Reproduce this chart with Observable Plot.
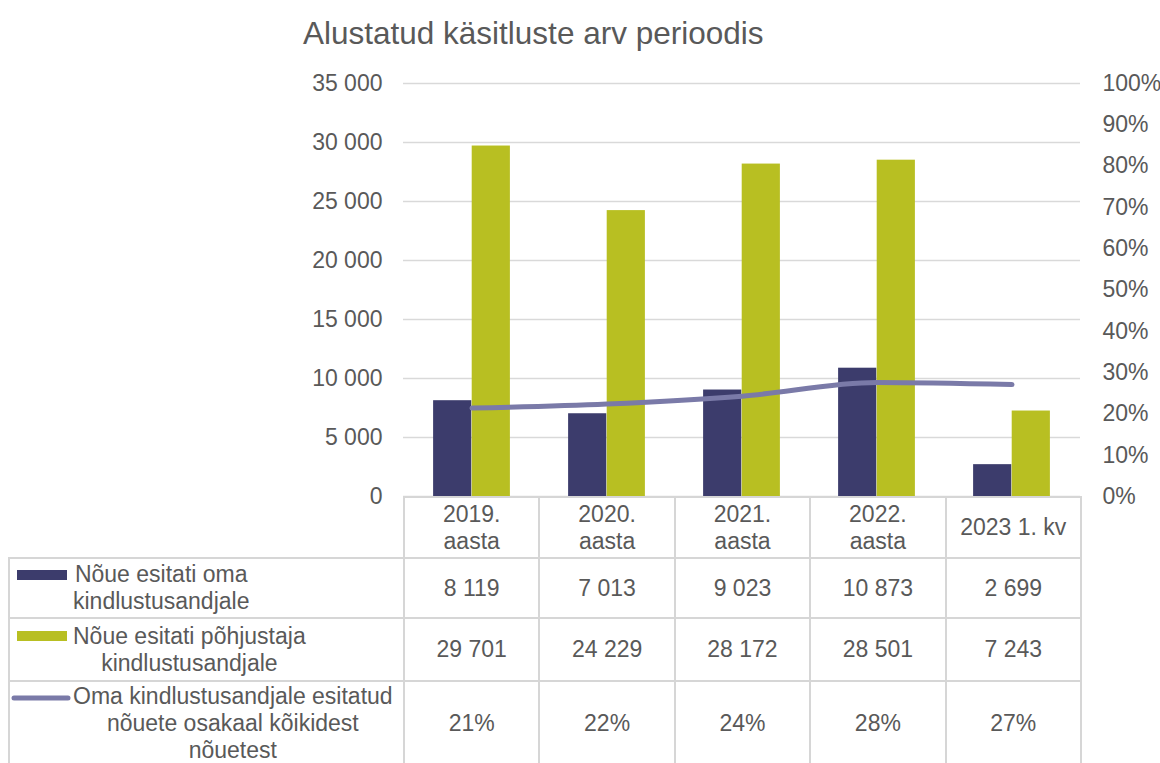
<!DOCTYPE html>
<html>
<head>
<meta charset="utf-8">
<script src="https://cdn.jsdelivr.net/npm/d3@7"></script>
<script src="https://cdn.jsdelivr.net/npm/@observablehq/plot@0.6"></script>
<style>
  html, body { margin: 0; padding: 0; background: #fff; }
  #wrap { position: relative; width: 1160px; height: 763px; overflow: hidden; font-family: "Liberation Sans", Arial, sans-serif; color: #595959; }
  #title { position: absolute; left: 303px; top: 17px; font-size: 31.5px; line-height: 32px; white-space: nowrap; }
  #chart { position: absolute; left: 0; top: 0; }
  #tbl { position: absolute; left: 8px; top: 496px; border-collapse: collapse; table-layout: fixed; font-size: 23px; line-height: 27px; }
  #tbl td { border: 2px solid #d6d6d6; text-align: center; vertical-align: middle; padding: 0; white-space: pre-line; }
  #tbl td.blank { border: none; }
  #tbl td.lab { position: relative; text-align: left; }
  .sw { position: absolute; left: 7px; }
  .labtxt { display: inline-block; margin-left: 63px; text-align: center; white-space: pre; }
</style>
</head>
<body>
<div id="wrap">
  <div id="title"></div>
  <div id="chart"></div>
  <table id="tbl"></table>
</div>
<script>
// ---- data ----
const title = "Alustatud käsitluste arv perioodis";
const categories = ["2019.\naasta", "2020.\naasta", "2021.\naasta", "2022.\naasta", "2023 1. kv"];
const ownInsurer = [8119, 7013, 9023, 10873, 2699];
const causerInsurer = [29701, 24229, 28172, 28501, 7243];
const ownShare = [21.4, 22.4, 24.3, 27.6, 27.1];
const seriesNames = [
  "Nõue esitati oma\nkindlustusandjale",
  "Nõue esitati põhjustaja\nkindlustusandjale",
  "Oma kindlustusandjale esitatud\nnõuete osakaal kõikidest\nnõuetest"
];
const leftTicks = [0, 5000, 10000, 15000, 20000, 25000, 30000, 35000];
const rightTicks = [0, 10, 20, 30, 40, 50, 60, 70, 80, 90, 100];
const yMax = 35000;

// ---- styles ----
const colOwn = "#3c3c6c";
const colCauser = "#b8bf22";
const colShare = "#7a7aa8";

const rows = categories.map((c, i) => ({cat: c, own: ownInsurer[i], causer: causerInsurer[i], share: ownShare[i]}));
const fmtNum = v => d3.format(",")(v).replace(/,/g, " ");

document.getElementById("title").textContent = title;

const W = 1160, ML = 403, MR = 80, MT = 83, H = 500, MB = 4;
const bw = (W - ML - MR) / categories.length;
const barW = bw * 0.285;
const outer = (bw - 2 * barW) / 2;

const chart = Plot.plot({
  width: W, height: H,
  marginLeft: ML, marginRight: MR, marginTop: MT, marginBottom: MB,
  style: {fontFamily: "'Liberation Sans', Arial, sans-serif", fontSize: "23px", color: "#595959", background: "transparent", overflow: "visible"},
  x: {domain: categories, padding: 0, axis: null},
  y: {domain: [0, yMax], axis: null},
  marks: [
    Plot.gridY(leftTicks, {stroke: "#d9d9d9", strokeOpacity: 1, strokeWidth: 1.5}),
    Plot.axisY(leftTicks, {anchor: "left", tickSize: 0, tickPadding: 21, tickFormat: fmtNum}),
    Plot.axisY(rightTicks.map(p => p / 100 * yMax), {anchor: "right", tickSize: 0, tickPadding: 22, tickFormat: v => Math.round(v / yMax * 100) + "%", textAnchor: "start"}),
    Plot.barY(rows, {x: "cat", y: "own", fill: colOwn, insetLeft: outer, insetRight: outer + barW}),
    Plot.barY(rows, {x: "cat", y: "causer", fill: colCauser, insetLeft: outer + barW, insetRight: outer}),
    Plot.line(rows, {x: "cat", y: d => d.share / 100 * yMax, stroke: colShare, strokeWidth: 5, curve: "monotone-x", strokeLinecap: "round"})
  ]
});
document.getElementById("chart").appendChild(chart);

// ---- data table ----
const tbl = document.getElementById("tbl");
const labW = ML - 8;
let html = `<colgroup><col style="width:${labW}px">` + categories.map(() => `<col style="width:${bw}px">`).join("") + `</colgroup>`;
html += `<tr style="height:61px"><td class="blank"></td>` + categories.map(c => `<td>${c}</td>`).join("") + `</tr>`;
const swatches = [
  `<svg class="sw" width="52" height="12" style="top:10px"><rect x="0" y="1" width="50" height="10" fill="${colOwn}"/></svg>`,
  `<svg class="sw" width="52" height="12" style="top:11px"><rect x="0" y="1" width="50" height="10" fill="${colCauser}"/></svg>`,
  `<svg class="sw" width="60" height="10" style="left:1px;top:11px"><line x1="3" y1="5" x2="57" y2="5" stroke="${colShare}" stroke-width="5" stroke-linecap="round"/></svg>`
];
const rowVals = [
  ownInsurer.map(fmtNum),
  causerInsurer.map(fmtNum),
  ownShare.map(v => Math.round(v) + "%")
];
const rowH = [60, 63, 84];
seriesNames.forEach((name, r) => {
  html += `<tr style="height:${rowH[r]}px"><td class="lab">${swatches[r]}<span class="labtxt">${name}</span></td>` +
    rowVals[r].map(v => `<td>${v}</td>`).join("") + `</tr>`;
});
tbl.innerHTML = html;
</script>
</body>
</html>
